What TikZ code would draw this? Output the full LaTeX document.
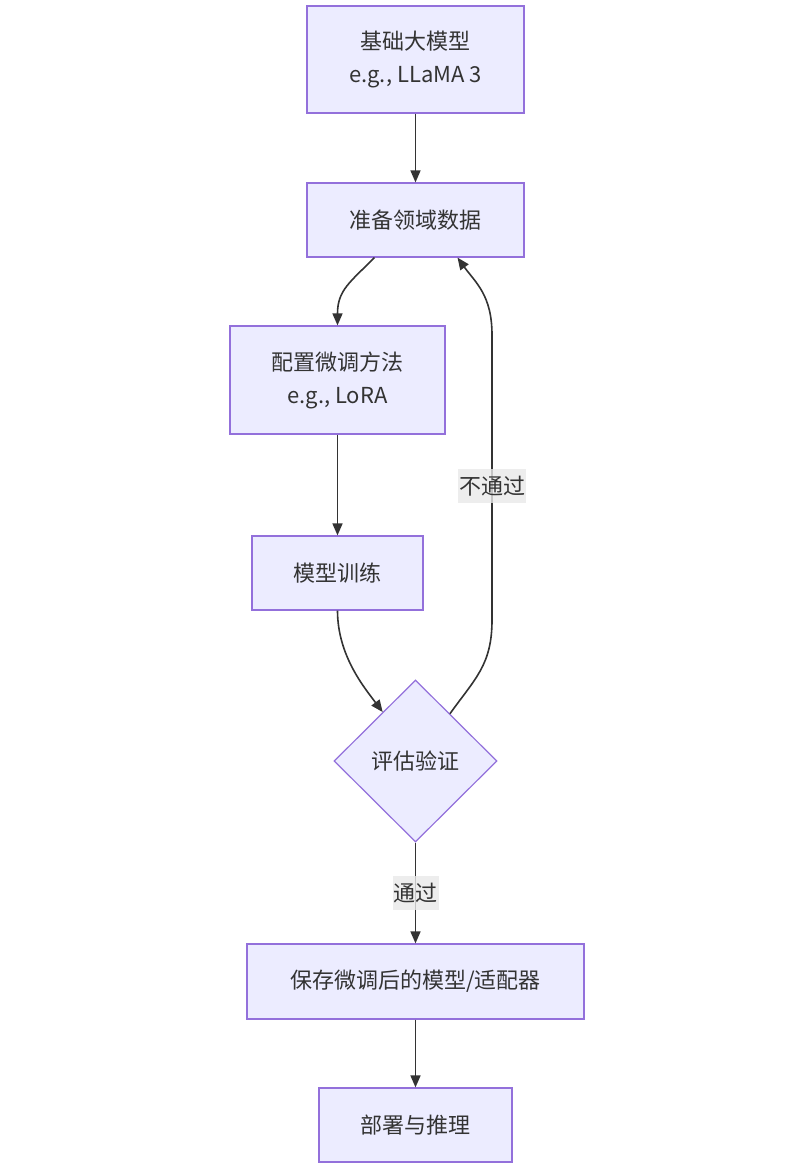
\documentclass[tikz,border=0pt]{standalone}
\usepackage{fontspec}
\setmainfont{Noto Sans CJK SC}
\usetikzlibrary{calc,positioning,shapes.geometric,arrows.meta}
\definecolor{MerFill}{HTML}{ECECFF}
\definecolor{MerStroke}{HTML}{9370DB}
\definecolor{MerLine}{HTML}{333333}
\definecolor{MerText}{HTML}{333333}
\definecolor{MerLabel}{HTML}{E8E8E8}
\begin{document}
\begin{tikzpicture}[x=1pt,y=-1pt,font=\fontsize{22pt}{33pt}\selectfont,text=MerText,
      blk/.style={draw=MerStroke,fill=MerFill,line width=1.2pt,minimum height=74pt,align=center,inner sep=0pt},
      dec/.style={diamond,draw=MerStroke,fill=MerFill,line width=1.2pt,minimum width=163pt,minimum height=162pt,inner sep=0pt},
      arr/.style={-{Triangle[length=12pt,width=10pt]},line width=1.6pt,color=MerLine},
      lbl/.style={fill=MerLabel,fill opacity=0.8,text opacity=1,inner xsep=1pt,inner ysep=0pt,minimum height=34pt}]
      \useasboundingbox (0,0) rectangle (808,1169);
      \node[blk,minimum width=217pt,minimum height=107pt] (A) at (415.5,59.5) {基础大模型\\e.g., LLaMA 3};
      \node[blk,minimum width=217pt] (B) at (415.5,220) {准备领域数据};
      \node[blk,minimum width=215pt,minimum height=108pt] (C) at (337.5,380) {配置微调方法\\e.g., LoRA};
      \node[blk,minimum width=171pt] (D) at (337.5,573) {模型训练};
      \node[dec] (E) at (415.5,761) {评估验证};
      \node[blk,minimum width=337pt,minimum height=75pt] (F) at (415.5,981.5) {保存微调后的模型/适配器};
      \node[blk,minimum width=193pt] (G) at (415.5,1125) {部署与推理};
      \coordinate (r1) at (492,620); \coordinate (r2) at (492,335);
      \draw[arr] (A) -- (B);
      \draw[arr] ($(B.south)+(-41,0)$) .. controls +(-25,25) and +(0,-35) .. (C.north);
      \draw[arr] (C) -- (D);
      \draw[arr] (D.south) .. controls +(0,45) and +(-18,-24) .. ($(E.north)!0.4!(E.west)$);
      \draw[arr] ($(E.north)!0.42!(E.east)$) .. controls +(25,-35) and +(0,45) .. (r1) -- node[lbl,pos=0.47] {不通过} (r2) .. controls +(0,-40) and +(18,25) .. ($(B.south)+(42,0)$);
      \draw[arr] (E) -- node[lbl] {通过} (F);
      \draw[arr] (F) -- (G);
    \end{tikzpicture}
\end{document}
